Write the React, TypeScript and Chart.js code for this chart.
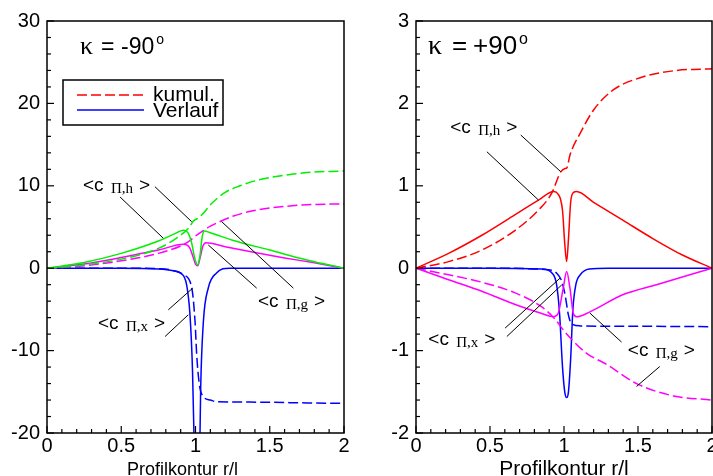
import React, { useEffect, useRef } from 'react';
import { Chart, registerables } from 'chart.js';

Chart.register(...registerables);

// ---------------- data: left panel (kappa = -90) ----------------
const L_H_VERLAUF_X = [0, 0.25, 0.5, 0.75, 0.85, 0.92, 0.95, 0.975, 0.995, 1.015, 1.03, 1.045, 1.06, 1.1, 1.25, 1.5, 1.75, 2];
const L_H_VERLAUF_Y = [0, 0.7, 1.8, 3.3, 4.1, 4.6, 4.3, 3.0, 1.2, 0.4, 1.5, 3.8, 4.5, 4.3, 3.4, 2.2, 1.0, 0];
const L_H_KUMUL_X = [0, 0.25, 0.5, 0.75, 0.9, 0.95, 0.99, 1.02, 1.05, 1.1, 1.2, 1.3, 1.4, 1.5, 1.75, 2];
const L_H_KUMUL_Y = [0, 0.4, 1.1, 2.4, 4.0, 4.8, 5.8, 6.1, 6.6, 7.7, 9.2, 10.0, 10.6, 11.0, 11.6, 11.8];
const L_G_VERLAUF_X = [0, 0.25, 0.5, 0.75, 0.92, 0.96, 0.985, 1.0, 1.015, 1.03, 1.05, 1.07, 1.2, 1.4, 1.6, 1.8, 2];
const L_G_VERLAUF_Y = [0, 0.5, 1.3, 2.2, 2.9, 2.5, 1.3, 0.5, 0.3, 1.2, 2.7, 3.1, 2.6, 1.9, 1.25, 0.65, 0];
const L_G_KUMUL_X = [0, 0.25, 0.5, 0.75, 0.9, 0.95, 1.0, 1.04, 1.1, 1.17, 1.25, 1.37, 1.5, 1.75, 2];
const L_G_KUMUL_Y = [0, 0.3, 0.9, 1.8, 2.7, 3.2, 3.9, 4.4, 5.1, 5.7, 6.3, 6.9, 7.3, 7.7, 7.8];
const L_X_VERLAUF_X = [0, 0.5, 0.75, 0.85, 0.9, 0.94, 0.963, 0.98, 0.99, 1.01, 1.03, 1.035, 1.053, 1.086, 1.14, 1.23, 1.5, 2];
const L_X_VERLAUF_Y = [0, 0, -0.1, -0.3, -0.6, -2.0, -5.7, -12.5, -20.5, -40, -20.5, -14.5, -6.5, -2.4, -0.6, 0, 0, 0];
const L_X_KUMUL_X = [0, 0.5, 0.75, 0.83, 0.92, 0.975, 0.997, 1.008, 1.026, 1.053, 1.1, 1.14, 1.37, 1.75, 2];
const L_X_KUMUL_Y = [0, 0, -0.05, -0.2, -0.8, -2.4, -6.5, -10.5, -14.1, -15.6, -16.0, -16.2, -16.25, -16.35, -16.4];

// ---------------- data: right panel (kappa = +90) ----------------
const R_H_VERLAUF_X = [0, 0.22, 0.445, 0.67, 0.83, 0.93, 0.96, 0.99, 1.005, 1.018, 1.03, 1.045, 1.065, 1.085, 1.2, 1.4, 1.6, 1.8, 2];
const R_H_VERLAUF_Y = [0, 0.18, 0.4, 0.65, 0.83, 0.93, 0.9, 0.7, 0.3, 0.08, 0.35, 0.8, 0.92, 0.93, 0.8, 0.58, 0.36, 0.16, 0];
const R_H_KUMUL_X = [0, 0.22, 0.445, 0.67, 0.83, 0.917, 0.978, 1.007, 1.02, 1.04, 1.11, 1.2, 1.33, 1.53, 1.76, 2];
const R_H_KUMUL_Y = [0, 0.08, 0.22, 0.46, 0.71, 0.91, 1.17, 1.21, 1.22, 1.37, 1.64, 1.92, 2.16, 2.32, 2.4, 2.42];
const R_G_VERLAUF_X = [0, 0.22, 0.445, 0.67, 0.85, 0.928, 0.96, 0.995, 1.018, 1.04, 1.063, 1.085, 1.175, 1.4, 1.625, 1.85, 2];
const R_G_VERLAUF_Y = [0, -0.14, -0.28, -0.44, -0.55, -0.59, -0.55, -0.24, -0.04, -0.24, -0.55, -0.59, -0.53, -0.32, -0.2, -0.08, 0];
const R_G_KUMUL_X = [0, 0.22, 0.445, 0.67, 0.85, 0.94, 1.0, 1.06, 1.15, 1.29, 1.49, 1.74, 2];
const R_G_KUMUL_Y = [0, -0.08, -0.17, -0.3, -0.47, -0.62, -0.76, -0.88, -1.03, -1.17, -1.4, -1.55, -1.6];
const R_X_VERLAUF_X = [0, 0.5, 0.85, 0.92, 0.95, 0.97, 0.99, 1.005, 1.018, 1.03, 1.045, 1.06, 1.08, 1.11, 1.17, 1.3, 2];
const R_X_VERLAUF_Y = [0, 0, -0.01, -0.06, -0.2, -0.55, -1.2, -1.5, -1.57, -1.5, -1.1, -0.5, -0.2, -0.08, -0.01, 0, 0];
const R_X_KUMUL_X = [0, 0.5, 0.894, 0.95, 0.985, 1.007, 1.03, 1.05, 1.108, 1.5, 2];
const R_X_KUMUL_Y = [0, 0, -0.02, -0.06, -0.16, -0.32, -0.57, -0.67, -0.7, -0.705, -0.71];

// ---------------- axes / tick labels ----------------
const X_RANGE = [0, 2];
const X_STEP = 0.5;
const L_Y_RANGE = [-20, 30];
const L_Y_STEP = 10;
const R_Y_RANGE = [-2, 3];
const R_Y_STEP = 1;
const X_TITLE = 'Profilkontur r/l';
const LEGEND_LABELS = ['kumul.', 'Verlauf'];
const L_KAPPA = '-90';
const R_KAPPA = '+90';

// annotation labels (data coords) and leader lines (data coords)
const L_LABELS = [
  { x: 0.242, y: 9.37, sub: 'h' },
  { x: 1.421, y: -4.69, sub: 'g' },
  { x: 0.343, y: -7.36, sub: 'x' },
];
const L_LINES = [
  [0.492, 8.64, 0.783, 3.64],
  [0.727, 9.89, 0.974, 5.65],
  [1.176, 5.65, 1.659, -2.42],
  [1.086, 2.82, 1.412, -2.42],
  [0.817, -5.05, 0.981, -2.42],
  [0.795, -8.29, 0.951, -5.66],
];
const R_LABELS = [
  { x: 0.231, y: 1.64, sub: 'h' },
  { x: 0.083, y: -0.93, sub: 'x' },
  { x: 1.431, y: -1.063, sub: 'g' },
];
const R_LINES = [
  [0.479, 1.413, 0.827, 0.828],
  [0.708, 1.616, 0.978, 1.171],
  [0.602, -0.727, 0.973, -0.121],
  [0.614, -0.829, 0.985, -0.202],
  [1.175, -0.545, 1.389, -0.897],
  [1.49, -1.435, 1.647, -1.193],
];

const RED = '#ff0000';
const BLUE = '#0000ff';
const GREEN = '#00f000';
const MAGENTA = '#ff00ff';
const SANS = '"Liberation Sans", Arial, Helvetica, sans-serif';
const SERIF = '"Liberation Serif", "Times New Roman", serif';
const DASH = [10, 4];

function ds(xs: number[], ys: number[], color: string, dashed: boolean) {
  return {
    data: xs.map((x, i) => ({ x, y: ys[i] })),
    borderColor: color,
    borderWidth: 1.5,
    borderDash: dashed ? DASH : [],
    pointRadius: 0,
    cubicInterpolationMode: 'monotone',
    fill: false,
  };
}

function drawSubLabel(ctx: CanvasRenderingContext2D, x: number, y: number, sub: string) {
  ctx.font = `19px ${SANS}`;
  ctx.fillText('<c', x, y);
  ctx.font = `15px ${SERIF}`;
  ctx.fillText('\u03A0,' + sub, x + 28, y + 2);
  ctx.font = `19px ${SANS}`;
  ctx.fillText('>', x + 56, y);
}

function makePlugin(p: any) {
  return {
    id: 'panelDecor',
    afterDraw(chart: any) {
      const { ctx, chartArea: a, scales } = chart;
      const xs = scales.x;
      const ys = scales.y;
      ctx.save();
      ctx.strokeStyle = '#000';
      ctx.fillStyle = '#000';
      // frame
      ctx.lineWidth = 1.5;
      ctx.setLineDash([]);
      ctx.strokeRect(a.left, a.top, a.right - a.left, a.bottom - a.top);
      // ticks (inward)
      const tick = (min: number, max: number, minor: number, major: number, horiz: boolean) => {
        const n = Math.round((max - min) / minor);
        for (let i = 0; i <= n; i++) {
          const v = min + i * minor;
          const isMajor = Math.abs(v / major - Math.round(v / major)) < 1e-6;
          const len = isMajor ? 7 : 4;
          ctx.beginPath();
          if (horiz) {
            const px = xs.getPixelForValue(v);
            ctx.moveTo(px, a.bottom);
            ctx.lineTo(px, a.bottom - len);
          } else {
            const py = ys.getPixelForValue(v);
            ctx.moveTo(a.left, py);
            ctx.lineTo(a.left + len, py);
          }
          ctx.stroke();
        }
      };
      ctx.lineWidth = 1.2;
      tick(X_RANGE[0], X_RANGE[1], 0.1, X_STEP, true);
      tick(p.yRange[0], p.yRange[1], p.yMinor, p.yStep, false);

      // leader lines
      ctx.lineWidth = 1;
      for (const l of p.lines) {
        ctx.beginPath();
        ctx.moveTo(xs.getPixelForValue(l[0]), ys.getPixelForValue(l[1]));
        ctx.lineTo(xs.getPixelForValue(l[2]), ys.getPixelForValue(l[3]));
        ctx.stroke();
      }
      // labels
      ctx.textAlign = 'left';
      ctx.textBaseline = 'alphabetic';
      for (const lb of p.labels) {
        drawSubLabel(ctx, xs.getPixelForValue(lb.x), ys.getPixelForValue(lb.y), lb.sub);
      }
      // kappa
      const k = p.kappaStyle;
      const kx = a.left + p.kappaDx;
      const ky = a.top + 33;
      ctx.font = `${k.kSize}px ${SERIF}`;
      ctx.fillText('\u03BA', kx, ky);
      ctx.font = `${k.size}px ${SANS}`;
      ctx.fillText('=', kx + k.eqDx, ky);
      ctx.fillText(p.kappa, kx + k.numDx, ky);
      const kw = ctx.measureText(p.kappa).width;
      ctx.font = `${k.supSize}px ${SANS}`;
      ctx.fillText('o', kx + k.numDx + 2 + kw, ky - 10);

      // legend
      if (p.legend) {
        const bx = a.left + 16;
        const by = a.top + 59;
        ctx.lineWidth = 1.5;
        ctx.strokeRect(bx, by, 160, 45);
        ctx.lineWidth = 1.5;
        ctx.strokeStyle = RED;
        ctx.setLineDash(DASH);
        ctx.beginPath();
        ctx.moveTo(bx + 14, by + 15);
        ctx.lineTo(bx + 81, by + 15);
        ctx.stroke();
        ctx.setLineDash([]);
        ctx.strokeStyle = BLUE;
        ctx.beginPath();
        ctx.moveTo(bx + 14, by + 30);
        ctx.lineTo(bx + 81, by + 30);
        ctx.stroke();
        ctx.font = `21px ${SANS}`;
        ctx.fillText(LEGEND_LABELS[0], bx + 90, by + 21);
        ctx.fillText(LEGEND_LABELS[1], bx + 90, by + 37);
      }
      // x title
      ctx.font = `${p.titleSize}px ${SANS}`;
      ctx.textAlign = 'center';
      ctx.fillText(X_TITLE, (a.left + a.right) / 2 + p.titleDx, 475);
      ctx.restore();
    },
  };
}

function buildConfig(p: any) {
  const tickFont = { family: SANS, size: 20 };
  return {
    type: 'line',
    data: { datasets: p.datasets },
    options: {
      responsive: false,
      animation: false,
      devicePixelRatio: 1,
      parsing: false,
      layout: { padding: { top: 21, right: p.padRight, left: 0, bottom: 0 } },
      plugins: { legend: { display: false }, tooltip: { enabled: false } },
      scales: {
        x: {
          type: 'linear',
          min: X_RANGE[0],
          max: X_RANGE[1],
          ticks: { stepSize: X_STEP, font: tickFont, color: '#000', padding: 1, maxRotation: 0, autoSkip: false, callback: (v: any) => String(Number(v)) },
          grid: { display: false, drawTicks: false },
          border: { display: false },
          afterFit: (s: any) => { s.height = 43; },
        },
        y: {
          type: 'linear',
          min: p.yRange[0],
          max: p.yRange[1],
          ticks: { stepSize: p.yStep, font: tickFont, color: '#000', padding: 7, callback: (v: any) => String(Number(v)) },
          grid: { display: false, drawTicks: false },
          border: { display: false },
          afterFit: (s: any) => { s.width = p.yWidth; },
        },
      },
    },
    plugins: [makePlugin(p)],
  };
}

const LEFT_PANEL = {
  datasets: [
    ds(L_H_KUMUL_X, L_H_KUMUL_Y, GREEN, true),
    ds(L_H_VERLAUF_X, L_H_VERLAUF_Y, GREEN, false),
    ds(L_G_KUMUL_X, L_G_KUMUL_Y, MAGENTA, true),
    ds(L_G_VERLAUF_X, L_G_VERLAUF_Y, MAGENTA, false),
    ds(L_X_KUMUL_X, L_X_KUMUL_Y, BLUE, true),
    ds(L_X_VERLAUF_X, L_X_VERLAUF_Y, BLUE, false),
  ],
  yRange: L_Y_RANGE,
  yStep: L_Y_STEP,
  yMinor: 2,
  yWidth: 47,
  padRight: 16,
  labels: L_LABELS,
  lines: L_LINES,
  kappa: L_KAPPA,
  kappaDx: 33,
  kappaStyle: { kSize: 26, size: 23, supSize: 14, eqDx: 21, numDx: 41 },
  legend: true,
  titleDx: -13,
  titleSize: 18,
};

const RIGHT_PANEL = {
  datasets: [
    ds(R_H_KUMUL_X, R_H_KUMUL_Y, RED, true),
    ds(R_H_VERLAUF_X, R_H_VERLAUF_Y, RED, false),
    ds(R_G_KUMUL_X, R_G_KUMUL_Y, MAGENTA, true),
    ds(R_G_VERLAUF_X, R_G_VERLAUF_Y, MAGENTA, false),
    ds(R_X_KUMUL_X, R_X_KUMUL_Y, BLUE, true),
    ds(R_X_VERLAUF_X, R_X_VERLAUF_Y, BLUE, false),
  ],
  yRange: R_Y_RANGE,
  yStep: R_Y_STEP,
  yMinor: 0.2,
  yWidth: 56,
  padRight: 18,
  labels: R_LABELS,
  lines: R_LINES,
  kappa: R_KAPPA,
  kappaDx: 12,
  kappaStyle: { kSize: 28, size: 26, supSize: 16, eqDx: 24, numDx: 45 },
  legend: false,
  titleDx: 0,
  titleSize: 21,
};

export default function App() {
  const leftRef = useRef<HTMLCanvasElement>(null);
  const rightRef = useRef<HTMLCanvasElement>(null);
  useEffect(() => {
    const c1 = new Chart(leftRef.current as HTMLCanvasElement, buildConfig(LEFT_PANEL) as any);
    const c2 = new Chart(rightRef.current as HTMLCanvasElement, buildConfig(RIGHT_PANEL) as any);
    return () => {
      c1.destroy();
      c2.destroy();
    };
  }, []);
  return (
    <div style={{ position: 'fixed', left: 0, top: 0, width: 713, height: 476, overflow: 'hidden', background: '#fff' }}>
      <canvas ref={leftRef} width={360} height={476} style={{ position: 'absolute', left: 0, top: 0, width: 360, height: 476 }} />
      <canvas ref={rightRef} width={370} height={476} style={{ position: 'absolute', left: 360, top: 0, width: 370, height: 476 }} />
    </div>
  );
}
